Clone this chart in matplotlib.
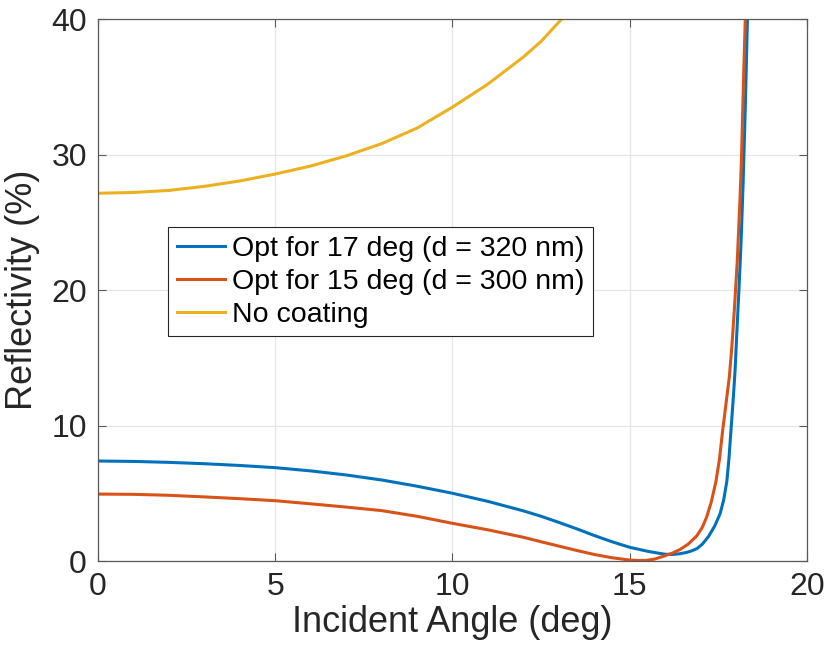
import matplotlib
matplotlib.use("Agg")
import matplotlib.pyplot as plt

plt.rcParams['font.family'] = ['Liberation Sans', 'DejaVu Sans']

# Data
angle_blue = [0, 1, 2, 3, 4, 5, 6, 7, 8, 9, 10, 11, 12, 12.5, 13, 13.5, 14, 14.5, 15, 15.5,
              15.8, 16.0, 16.2, 16.4, 16.6, 16.75, 16.9, 17.05, 17.22, 17.4, 17.55, 17.65,
              17.74, 17.8, 17.86, 17.92, 17.97, 18.02, 18.08, 18.14, 18.2, 18.26, 18.32]
refl_blue = [7.38, 7.35, 7.28, 7.18, 7.05, 6.89, 6.65, 6.35, 5.98, 5.52, 5.0, 4.4, 3.7, 3.3,
             2.85, 2.38, 1.88, 1.42, 1.01, 0.72, 0.58, 0.5, 0.48, 0.53, 0.63, 0.75, 0.92, 1.25,
             1.8, 2.6, 3.5, 4.5, 5.9, 7.6, 9.8, 12.0, 14.0, 16.8, 20.0, 23.5, 28.0, 33.5, 40.0]

angle_red = [0, 1, 2, 3, 4, 5, 6, 7, 8, 9, 10, 11, 12, 12.5, 13, 13.5, 14, 14.5, 15, 15.25,
             15.45, 15.7, 15.95, 16.2, 16.42, 16.65, 16.89, 17.05, 17.17, 17.3, 17.43, 17.53,
             17.62, 17.72, 17.81, 17.88, 17.95, 18.03, 18.11, 18.15, 18.185, 18.22, 18.26]
refl_red = [4.94, 4.92, 4.85, 4.73, 4.6, 4.45, 4.22, 3.98, 3.72, 3.3, 2.78, 2.3, 1.75, 1.42,
            1.1, 0.78, 0.48, 0.24, 0.07, 0.04, 0.04, 0.14, 0.35, 0.58, 0.85, 1.25, 1.85, 2.5,
            3.25, 4.35, 5.85, 7.5, 9.6, 11.7, 13.6, 15.8, 18.5, 22.0, 26.7, 29.5, 33.0, 36.5, 40.0]

angle_none = [0, 1, 2, 3, 4, 5, 6, 7, 8, 9, 10, 10.5, 11, 11.5, 12, 12.5, 13.08]
refl_none = [27.14, 27.2, 27.35, 27.65, 28.05, 28.56, 29.15, 29.9, 30.8, 31.95, 33.5, 34.35,
             35.2, 36.2, 37.2, 38.35, 40.0]

labels = ['Opt for 17 deg (d = 320 nm)', 'Opt for 15 deg (d = 300 nm)', 'No coating']
colors = ['#0072BD', '#D95319', '#EDB120']

fig = plt.figure(figsize=(8.27, 6.54), dpi=100)
ax = fig.add_axes([0.1185, 0.1422, 0.8573, 0.8287])

ax.plot(angle_blue, refl_blue, color=colors[0], lw=2.2, label=labels[0])
ax.plot(angle_red, refl_red, color=colors[1], lw=2.2, label=labels[1])
ax.plot(angle_none, refl_none, color=colors[2], lw=2.2, label=labels[2])

ax.set_xlim(0, 20)
ax.set_ylim(0, 40)
ax.set_xticks([0, 5, 10, 15, 20])
ax.set_yticks([0, 10, 20, 30, 40])
ax.grid(True, color='#e6e6e6', lw=0.9)
ax.set_axisbelow(True)
for s in ax.spines.values():
    s.set_color('#5a5a5a')
    s.set_linewidth(0.9)
ax.tick_params(direction='in', top=True, right=True, length=6, width=0.8,
               labelsize=23, colors='#262626', pad=8)
ax.tick_params(color='#5a5a5a')
ax.set_xlabel('Incident Angle (deg)', fontsize=26, color='#262626', labelpad=2)
ax.set_ylabel('Reflectivity (%)', fontsize=26, color='#262626', labelpad=8)

leg = ax.legend(loc='upper left', bbox_to_anchor=(0.099, 0.616), fontsize=20.5,
                frameon=True, fancybox=False, edgecolor='#262626', framealpha=1,
                handlelength=1.7, handletextpad=0.25, borderpad=0.3, labelspacing=0.25,
                borderaxespad=0)
leg.get_frame().set_linewidth(0.8)

fig.savefig('out.png', dpi=100)
